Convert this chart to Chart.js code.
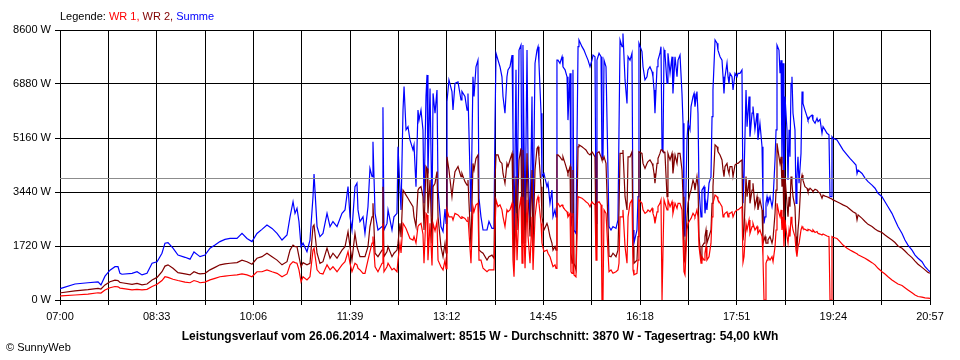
<!DOCTYPE html>
<html><head><meta charset="utf-8">
<script src="https://cdn.jsdelivr.net/npm/chart.js@4.4.0/dist/chart.umd.min.js"></script>
<style>
body{margin:0;background:#fff;width:960px;height:360px;overflow:hidden;position:relative;font-family:"Liberation Sans",Arial,sans-serif;}
#c{position:absolute;left:0;top:0;}
.t{position:absolute;font-size:11px;white-space:nowrap;line-height:13px;color:#000;}
</style></head><body>
<canvas id="c" width="960" height="360"></canvas>
<div class="t" style="left:60px;top:10px">Legende: <span style="color:#ff0000">WR 1,</span> <span style="color:#800000">WR 2,</span> <span style="color:#0000ff">Summe</span></div>
<div class="t" style="left:0;width:960px;text-align:center;font-weight:bold;font-size:12px;top:330px">Leistungsverlauf vom 26.06.2014 - Maximalwert: 8515 W - Durchschnitt: 3870 W - Tagesertrag: 54,00 kWh</div>
<div class="t" style="left:6px;top:341px">© SunnyWeb</div>
<script>
// minutes after 07:00
const minutes = [
0,1.0,14.4,26.9,36.6,39.4,43.3,48.1,52.9,55.8,
57.7,59.6,69.3,74.1,78.9,83.7,88.6,93.4,98.1,101.0,
103.9,108.7,113.5,120.3,125.1,128.9,132.8,134.7,139.5,144.3,
149.1,153.9,158.7,163.6,170.3,175.1,179.9,184.7,189.5,194.3,
199.1,204.0,208.8,213.6,218.4,221.3,224.2,226.1,228.0,229.9,
231.9,233.8,237.6,240.5,243.4,244.4,247.3,250.1,253.0,256.9,
259.8,262.6,266.5,271.3,274.2,277.1,279.0,280.9,283.8,285.7,
286.7,288.6,291.5,293.4,296.3,298.2,300.2,301.1,303.1,305.9,
309.8,310.7,311.7,314.6,315.6,319.4,321.3,324.2,325.2,327.1,
328.1,330.0,331.0,332.9,334.8,336.7,339.6,340.6,342.5,344.4,
345.4,347.3,349.2,350.2,352.1,353.1,354.0,356.0,357.9,358.9,
360.8,362.7,363.7,366.5,368.5,370.4,371.4,372.3,374.2,377.1,
378.1,380.0,382.9,385.8,386.7,389.6,391.6,392.5,395.4,397.3,
398.3,400.2,402.1,403.1,405.0,407.0,410.8,412.7,415.6,417.5,
418.5,419.5,421.4,423.3,425.2,426.2,428.1,430.0,431.0,432.9,
434.9,435.8,436.8,438.7,439.7,441.6,443.5,444.5,445.4,447.4,
449.3,450.3,452.2,454.1,455.1,457.0,458.9,459.9,460.8,462.8,
463.7,465.6,468.5,469.5,471.4,473.3,474.3,476.2,477.2,478.1,
479.1,481.0,483.0,483.9,485.9,487.8,488.7,490.7,491.6,492.6,
493.5,494.5,496.4,498.4,499.3,502.2,504.1,506.0,508.0,509.9,
511.8,512.8,514.7,515.7,516.6,518.6,520.5,521.4,522.4,523.4,
525.3,528.2,530.1,532.0,534.9,536.8,537.8,538.8,540.7,541.6,
543.6,545.5,546.5,548.4,550.3,551.3,552.2,555.1,556.1,557.0,
559.9,560.9,562.8,564.7,565.7,567.6,569.6,570.5,571.5,572.4,
574.4,575.3,577.2,578.2,579.2,580.1,581.1,582.0,584.0,584.9,
586.9,588.8,589.7,591.7,593.6,594.6,596.5,598.4,599.4,600.3,
601.3,603.2,604.2,606.1,607.1,609.0,610.0,610.9,612.8,613.8,
614.8,616.7,617.6,619.6,620.5,621.5,622.4,624.4,626.3,627.3,
628.2,630.2,632.1,633.0,635.0,636.9,637.9,638.8,639.8,641.7,
642.7,643.6,644.6,646.5,647.5,649.4,651.3,652.3,654.2,656.1,
657.1,658.1,660.0,661.0,662.9,663.8,665.8,666.7,668.6,670.6,
671.5,673.4,675.4,676.3,677.3,678.3,679.2,680.2,681.1,683.1,
685.0,686.0,687.9,688.9,689.8,691.7,692.7,693.7,694.6,695.6,
696.5,697.5,699.4,700.4,701.4,702.3,703.3,704.2,705.2,707.1,
708.1,709.0,710.0,711.0,712.9,713.9,714.8,716.7,718.7,719.6,
721.6,723.5,724.4,726.4,728.3,729.3,731.2,733.1,734.1,736.0,
737.9,739.8,740.8,741.8,742.7,743.7,747.5,750.4,753.3,757.2,
760.0,762.9,765.8,766.8,767.8,771.6,774.5,777.4,781.2,784.1,
787.0,790.8,793.7,796.6,800.4,803.3,806.2,810.1,812.9,815.8,
819.7,822.6,825.5,829.3,832.2,835.1,837.0
];
const summe = [
350,370,510,550,580,480,760,950,1060,1060,
850,820,850,900,800,850,1170,1220,1490,1810,
1830,1650,1430,1360,1300,1530,1430,1380,1430,1650,
1750,1860,1930,1960,1960,2120,1960,1860,2120,2250,
2390,2280,2120,1910,2070,2650,3130,2760,2920,2500,
1700,1810,1540,1910,3290,4010,2340,2020,2120,2760,
2340,2500,2340,2760,2870,3610,2650,2230,3610,3720,
2870,2500,2650,2120,2970,4190,3930,5040,2760,2230,
2340,6140,2230,2440,2870,2230,2650,2760,4880,3500,
2870,6050,6800,5420,5520,5100,4780,4940,3610,6050,
5730,6050,5420,3080,6480,7170,4030,6740,2650,6580,
5950,6690,3500,2340,2180,2900,2440,6320,7010,6640,
6050,6900,6950,6370,6640,6480,6050,6580,2810,7110,
6480,7430,7640,3240,2650,2230,2230,2500,2280,2280,
5630,7860,7640,7430,7110,6480,5950,7110,7330,7430,
7800,5420,1700,7330,2760,7960,8120,2230,8120,2230,
7960,4350,2340,6480,2440,7540,7960,8070,7540,5950,
3930,4030,3610,3720,3080,3500,2650,2870,2650,7640,
7640,7540,7750,7430,7330,7110,5730,7220,2340,2650,
7330,2230,2120,8070,8280,8070,7960,7800,7640,7430,
7640,7800,7750,2440,7640,7860,7750,4560,4510,7640,
7430,2340,2230,2340,2280,2550,5420,8280,8070,8490,
7010,6260,7750,7640,7860,2230,1810,2230,3290,8180,
7910,7430,7010,7110,7330,7430,7270,7110,6690,5950,
7430,7640,7860,8070,4780,4730,7960,7860,6900,7860,
7220,7750,6580,7750,7110,7640,7800,6580,5630,2230,
2020,5100,5630,5420,6160,6480,6580,6160,6640,5950,
3500,2650,3500,3610,2760,3080,2870,3720,3930,5840,
6690,8280,8180,7960,7750,7640,7110,6580,7110,7540,
7110,6900,7220,7110,6690,7220,7110,7220,7220,7330,
3080,3930,6690,5520,6480,5200,5950,6160,5420,5950,
5100,5630,4880,3200,2440,2650,3080,3290,3080,3290,
2970,3190,4460,5420,8120,7960,7220,7640,4350,7540,
2870,6480,5420,3820,5420,4560,6900,7110,5950,5420,
3080,3930,4560,3720,4670,6640,6260,6050,5840,5730,
5840,5890,5730,5630,5790,5680,5750,5310,5520,5420,
5310,5260,3290,3290,5200,5150,5100,4940,4780,4620,
4510,4410,4300,4030,4140,4030,3880,3770,3660,3560,
3400,3290,3130,2970,2760,2550,2340,2120,1910,1750,
1590,1430,1330,1220,1060,960,900
];
const wr2 = [
220,230,290,330,370,350,480,580,630,620,
560,550,500,530,480,510,640,720,900,1080,
1120,1010,870,830,800,900,850,830,850,960,
1040,1120,1150,1170,1190,1270,1220,1140,1330,1380,
1490,1380,1270,1120,1220,1590,1750,1700,1700,1380,
1060,1190,1120,1170,2340,2390,1490,1170,1220,1650,
1330,1490,1330,1590,1700,2180,1700,1270,2120,1700,
1590,1380,1380,1380,1700,2340,2650,3080,1490,1380,
1590,3610,1380,1540,1700,1380,1490,1590,1810,2440,
2000,3500,3450,3340,3240,3130,2970,2650,2340,3500,
3560,3610,3290,2230,4250,4190,2760,3820,1800,3610,
3720,4090,2650,1700,1380,1810,1500,4560,4140,3290,
3610,4090,4250,3930,4030,3770,3660,3820,1700,4350,
4140,4510,4620,1590,1540,1490,1270,1380,1430,1330,
3820,4620,4620,4410,4350,4030,3720,4350,4250,4460,
4670,2870,1170,3930,2230,4460,4830,1810,4780,1810,
4670,3290,2020,4140,1700,4140,4830,4880,4560,3610,
2650,2230,2440,2340,2020,1810,1590,1700,1590,4620,
4620,4560,4460,4560,4350,4140,4030,4250,1500,1170,
4140,1170,960,4880,4940,4880,4830,4780,4670,4620,
4720,4670,4560,1700,4670,4720,4560,4460,4460,4560,
4350,1400,1380,1490,1380,1590,2870,4670,4670,4780,
3290,2870,4560,4560,4720,1700,1170,1270,2020,4720,
4670,4350,4190,4350,4410,4460,4350,4250,4030,3720,
4350,4510,4670,4780,4780,4730,4720,4670,3290,4670,
4460,4670,4030,4620,4350,4670,4670,4140,3290,1300,
1200,2650,3080,3400,3500,3820,3720,3500,3930,3610,
2020,1270,1700,1810,2020,2230,1810,2020,2230,3080,
3610,4940,4880,4730,4620,4460,4140,3930,4250,4350,
4140,4030,4250,4250,3930,4300,4350,4350,4410,4460,
1900,2230,3930,3290,3820,3080,3500,3720,2970,3290,
2870,3190,2870,1810,1910,2020,1810,1810,1910,2020,
1810,1960,2760,3500,4990,4560,4350,4560,3610,4140,
2230,3930,3080,2650,3290,2970,3930,3720,3290,2970,
2020,1590,2230,2600,3820,3980,3820,3610,3560,3450,
3560,3500,3450,3530,3500,3450,3400,3240,3340,3310,
3290,3260,3240,3230,3210,3190,3130,3080,3030,2970,
2890,2810,2760,2550,2710,2600,2500,2410,2340,2260,
2200,2150,2070,2000,1910,1830,1720,1650,1560,1460,
1350,1240,1140,1040,960,880,850
];
const wr1 = [
120,130,160,190,230,220,320,390,430,420,
380,370,320,340,320,340,430,500,620,740,
720,660,620,570,550,620,580,550,570,640,
690,740,760,780,800,830,800,740,900,900,
960,900,850,740,830,1120,1220,1190,1170,960,
580,740,640,740,1590,1650,960,850,830,1120,
960,1060,900,1120,1220,1540,1170,900,1170,1120,
1010,960,850,850,1270,1540,1810,2020,1060,900,
1170,2440,900,1060,1170,960,1010,900,1270,1810,
1500,2440,2390,2280,2120,1960,1910,2020,1810,2340,
2390,2440,2100,1170,2760,2710,1270,2440,1100,2440,
2200,2500,1270,1060,960,1270,1000,2870,2650,2650,
2550,2760,2710,2600,2650,2600,2500,2650,1170,2970,
2810,3030,3080,1270,1270,1010,900,960,960,960,
2230,3190,2970,3030,2870,2650,2340,2870,2810,2870,
3080,1270,740,2760,1270,2870,3290,1170,3290,1010,
3190,2020,1170,2650,960,2650,3190,3290,3080,2440,
1810,1540,1590,1490,1380,1170,1060,1120,1010,3080,
3080,2970,3030,2970,2870,2810,2650,2760,900,850,
2760,800,740,3290,3290,3240,3190,3130,3080,2970,
3130,3080,3030,1270,3080,3130,3030,0,0,2870,
2760,900,960,850,900,960,1170,2650,2650,2870,
1700,1170,2650,3080,3190,960,800,850,1270,3190,
3080,2870,2760,2810,2870,2810,2920,2760,2650,2440,
2810,2970,3080,3190,0,0,3190,3190,2870,3190,
2970,3130,2760,3080,2920,3080,3080,2870,1910,900,
800,2230,2440,2550,2600,2760,2710,2650,2870,2650,
1700,1170,1380,1270,1490,1700,1270,1380,1810,2650,
3080,3340,3290,3190,3080,2970,2650,2710,2760,2810,
2650,2760,2760,2810,2650,2810,2870,2870,2920,2970,
1200,1380,2440,2230,2550,2120,2340,2440,2230,2340,
2120,2230,2020,1380,0,0,1170,1270,1380,1270,
1380,1220,1700,2230,3080,2760,2650,2870,2230,2650,
1700,2550,2020,1810,2230,2020,2650,2440,2230,2020,
1590,1380,1700,1800,2230,2340,2280,2250,2210,2250,
2230,2180,2230,2150,2180,2120,2100,2070,2100,2070,
2040,2020,0,0,2020,2000,1960,1860,1750,1650,
1590,1540,1490,1470,1440,1380,1330,1270,1190,1120,
1010,900,830,740,640,570,510,460,390,320,
230,160,110,90,70,60,50
];
const xTickLabels = ['07:00','08:33','10:06','11:39','13:12','14:45','16:18','17:51','19:24','20:57'];
const yTickValues = [0,1720,3440,5160,6880,8600];
const average = 3870;
const dayLength = 837; // 07:00 -> 20:57 in minutes

const pts = arr => minutes.map((m, i) => ({x: m, y: arr[i]}));
const FONT = {family: '"Liberation Sans", Arial, sans-serif', size: 11};
Chart.defaults.color = '#000';

new Chart(document.getElementById('c'), {
  type: 'line',
  data: {
    datasets: [
      {label: 'Durchschnitt', data: [{x: 0, y: average}, {x: dayLength, y: average}], borderColor: '#8c8c8c', borderWidth: 1, order: 0},
      {label: 'WR 1', data: pts(wr1), borderColor: '#ff0000', borderWidth: 1.2, order: 1},
      {label: 'WR 2', data: pts(wr2), borderColor: '#800000', borderWidth: 1.2, order: 2},
      {label: 'Summe', data: pts(summe), borderColor: '#0000ff', borderWidth: 1.2, order: 3}
    ]
  },
  options: {
    responsive: false,
    animation: false,
    devicePixelRatio: 1,
    parsing: false,
    elements: {point: {radius: 0}, line: {tension: 0, fill: false}},
    layout: {padding: {left: 0, right: 30, top: 30, bottom: 0}},
    plugins: {legend: {display: false}, tooltip: {enabled: false}, title: {display: false}},
    scales: {
      x: {
        type: 'linear', min: 0, max: dayLength,
        afterBuildTicks: s => { s.ticks = Array.from({length: 19}, (_, i) => ({value: i * dayLength / 18})); },
        afterFit: s => { s.height = 60; },
        ticks: {autoSkip: false, maxRotation: 0, minRotation: 0, font: FONT, color: '#000', padding: 5,
          callback: (v, i) => (i % 2 === 0 ? xTickLabels[i / 2] : '')},
        grid: {color: '#000', lineWidth: 1, tickLength: 5, tickColor: '#000', drawTicks: true},
        border: {color: '#000', width: 1}
      },
      y: {
        type: 'linear', min: 0, max: 8600,
        afterBuildTicks: s => { s.ticks = yTickValues.map(v => ({value: v})); },
        afterFit: s => { s.width = 60; },
        ticks: {font: FONT, color: '#000', padding: 4, callback: v => v + ' W'},
        grid: {color: '#000', lineWidth: 1, tickLength: 5, tickColor: '#000', drawTicks: true},
        border: {color: '#000', width: 1}
      }
    }
  }
});
</script>
</body></html>
